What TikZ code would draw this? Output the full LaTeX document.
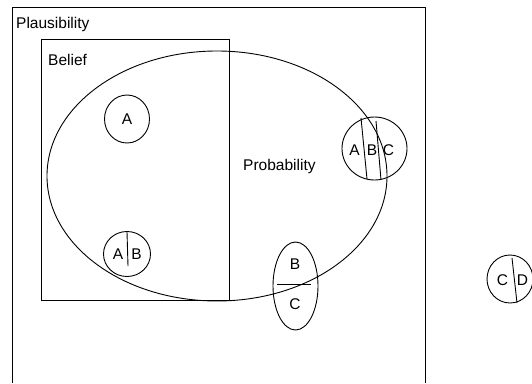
\documentclass[tikz,border=0pt]{standalone}
\usepackage{fontspec}
\setmainfont{Liberation Sans}
\usetikzlibrary{shapes.geometric}
\begin{document}
\begin{tikzpicture}[x=1pt,y=-1pt,
  line/.style={draw=black,line width=0.9pt},
  oval/.style={ellipse,draw=black,line width=0.9pt,inner sep=0pt},
  lbl/.style={font=\fontsize{15.5}{17}\selectfont,inner sep=0pt},
  ttl/.style={font=\fontsize{15.5}{17}\selectfont,inner sep=0pt,anchor=base west}]
\useasboundingbox[fill=white] (0,0) rectangle (532,383);
% Plausibility frame (open at the bottom of the picture)
\draw[line,line width=1pt] (12,383) -- (12,7) -- (425,7) -- (425,383);
\node[ttl] (plaus) at (16,28) {Plausibility};
% Belief box
\draw[line] (41,39) rectangle (229,300);
\node[ttl] (belief) at (48,65) {Belief};
% Probability ellipse
\node[oval,minimum width=340pt,minimum height=250pt] (prob) at (217,176) {};
\node[ttl] (probtxt) at (243,170) {Probability};
% circle A
\node[oval,minimum width=45pt,minimum height=48pt] (cA) at (127,119) {};
\node[lbl] (tA) at (127,119) {A};
% circle A|B
\node[oval,minimum width=47pt,minimum height=45pt] (cAB) at (127,254) {};
\draw[line] (127,232) -- (128,266);
\node[lbl] (tAB1) at (118,254) {A};
\node[lbl] (tAB2) at (136.5,254) {B};
% circle A|B|C
\node[oval,minimum width=65pt,minimum height=63pt] (cABC) at (374.5,148.5) {};
\draw[line] (361,118) -- (367,179);
\draw[line] (376,121) -- (381,180);
\node[lbl] (tABC1) at (354.5,150) {A};
\node[lbl] (tABC2) at (372,150) {B};
\node[lbl] (tABC3) at (388.5,150) {C};
% ellipse B / C
\node[oval,minimum width=45pt,minimum height=88pt] (cBC) at (295.5,286) {};
\draw[line] (277,284) -- (311,284);
\node[lbl] (tBC1) at (295,264) {B};
\node[lbl] (tBC2) at (295,304) {C};
% circle C|D
\node[oval,minimum width=46pt,minimum height=48pt] (cCD) at (510,279) {};
\draw[line] (512,258) -- (517,303);
\node[lbl] (tCD1) at (502.5,280) {C};
\node[lbl] (tCD2) at (522.5,280) {D};
\end{tikzpicture}
\end{document}
